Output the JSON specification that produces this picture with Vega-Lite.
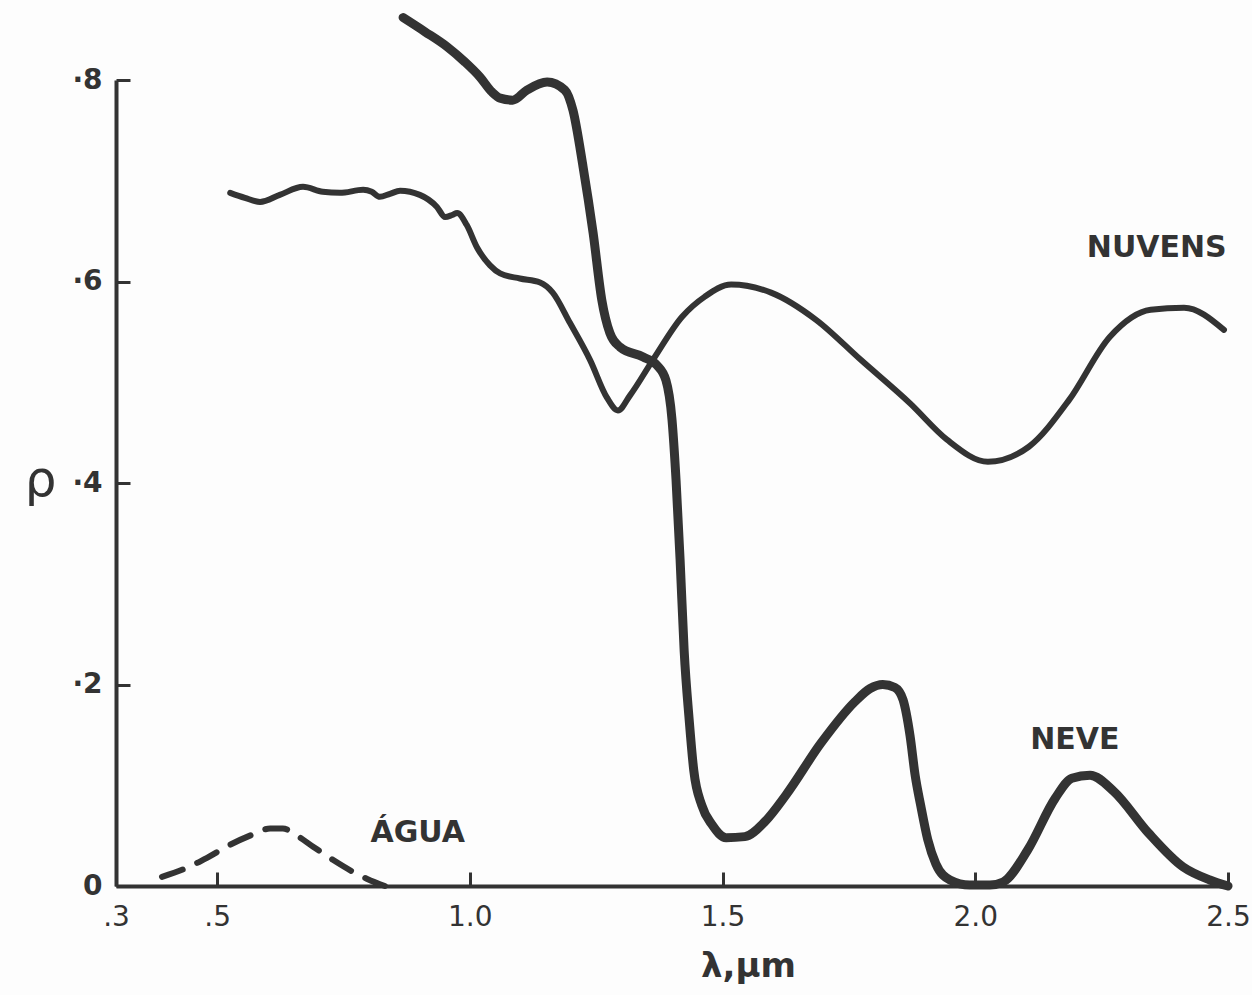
{
  "$schema": "https://vega.github.io/schema/vega-lite/v6.json",
  "width": 1112,
  "height": 806,
  "autosize": {"type": "none"},
  "padding": {"left": 116, "top": 80, "right": 24, "bottom": 109},
  "background": "#fdfdfd",
  "config": {
    "view": {"stroke": null},
    "font": "DejaVu Sans"
  },
  "data": {
    "values": [
      {"s": "nuvens", "x": 0.526, "y": 0.688},
      {"s": "nuvens", "x": 0.555, "y": 0.683},
      {"s": "nuvens", "x": 0.585, "y": 0.679},
      {"s": "nuvens", "x": 0.624, "y": 0.686},
      {"s": "nuvens", "x": 0.670, "y": 0.694},
      {"s": "nuvens", "x": 0.709, "y": 0.689},
      {"s": "nuvens", "x": 0.743, "y": 0.688},
      {"s": "nuvens", "x": 0.789, "y": 0.691},
      {"s": "nuvens", "x": 0.806, "y": 0.689},
      {"s": "nuvens", "x": 0.822, "y": 0.684},
      {"s": "nuvens", "x": 0.842, "y": 0.687},
      {"s": "nuvens", "x": 0.862, "y": 0.690},
      {"s": "nuvens", "x": 0.901, "y": 0.686},
      {"s": "nuvens", "x": 0.935, "y": 0.674},
      {"s": "nuvens", "x": 0.951, "y": 0.664},
      {"s": "nuvens", "x": 0.965, "y": 0.666},
      {"s": "nuvens", "x": 0.975, "y": 0.668},
      {"s": "nuvens", "x": 0.994, "y": 0.656},
      {"s": "nuvens", "x": 1.014, "y": 0.634},
      {"s": "nuvens", "x": 1.040, "y": 0.616},
      {"s": "nuvens", "x": 1.060, "y": 0.608},
      {"s": "nuvens", "x": 1.099, "y": 0.603},
      {"s": "nuvens", "x": 1.139, "y": 0.599},
      {"s": "nuvens", "x": 1.164, "y": 0.589},
      {"s": "nuvens", "x": 1.198, "y": 0.559},
      {"s": "nuvens", "x": 1.238, "y": 0.522},
      {"s": "nuvens", "x": 1.271, "y": 0.485},
      {"s": "nuvens", "x": 1.293, "y": 0.472},
      {"s": "nuvens", "x": 1.317, "y": 0.487},
      {"s": "nuvens", "x": 1.362, "y": 0.522},
      {"s": "nuvens", "x": 1.420, "y": 0.565},
      {"s": "nuvens", "x": 1.465, "y": 0.585},
      {"s": "nuvens", "x": 1.517, "y": 0.597},
      {"s": "nuvens", "x": 1.596, "y": 0.589},
      {"s": "nuvens", "x": 1.685, "y": 0.562},
      {"s": "nuvens", "x": 1.774, "y": 0.522},
      {"s": "nuvens", "x": 1.871, "y": 0.479},
      {"s": "nuvens", "x": 1.944, "y": 0.443},
      {"s": "nuvens", "x": 2.025, "y": 0.421},
      {"s": "nuvens", "x": 2.106, "y": 0.436},
      {"s": "nuvens", "x": 2.185, "y": 0.482},
      {"s": "nuvens", "x": 2.266, "y": 0.545},
      {"s": "nuvens", "x": 2.347, "y": 0.572},
      {"s": "nuvens", "x": 2.413, "y": 0.574},
      {"s": "nuvens", "x": 2.492, "y": 0.552},

      {"s": "neve", "x": 0.868, "y": 0.862},
      {"s": "neve", "x": 0.911, "y": 0.848},
      {"s": "neve", "x": 0.955, "y": 0.833},
      {"s": "neve", "x": 0.990, "y": 0.818},
      {"s": "neve", "x": 1.020, "y": 0.803},
      {"s": "neve", "x": 1.044, "y": 0.788},
      {"s": "neve", "x": 1.060, "y": 0.782},
      {"s": "neve", "x": 1.085, "y": 0.780},
      {"s": "neve", "x": 1.113, "y": 0.790},
      {"s": "neve", "x": 1.153, "y": 0.798},
      {"s": "neve", "x": 1.188, "y": 0.790},
      {"s": "neve", "x": 1.204, "y": 0.770},
      {"s": "neve", "x": 1.224, "y": 0.714},
      {"s": "neve", "x": 1.244, "y": 0.648},
      {"s": "neve", "x": 1.261, "y": 0.582},
      {"s": "neve", "x": 1.277, "y": 0.549},
      {"s": "neve", "x": 1.297, "y": 0.535},
      {"s": "neve", "x": 1.343, "y": 0.525},
      {"s": "neve", "x": 1.370, "y": 0.517},
      {"s": "neve", "x": 1.388, "y": 0.502},
      {"s": "neve", "x": 1.400, "y": 0.463},
      {"s": "neve", "x": 1.408, "y": 0.403},
      {"s": "neve", "x": 1.416, "y": 0.324},
      {"s": "neve", "x": 1.424, "y": 0.234},
      {"s": "neve", "x": 1.434, "y": 0.165},
      {"s": "neve", "x": 1.443, "y": 0.115},
      {"s": "neve", "x": 1.459, "y": 0.080},
      {"s": "neve", "x": 1.479, "y": 0.061},
      {"s": "neve", "x": 1.507, "y": 0.048},
      {"s": "neve", "x": 1.544, "y": 0.049},
      {"s": "neve", "x": 1.584, "y": 0.064},
      {"s": "neve", "x": 1.625, "y": 0.090},
      {"s": "neve", "x": 1.695, "y": 0.142},
      {"s": "neve", "x": 1.762, "y": 0.183},
      {"s": "neve", "x": 1.792, "y": 0.196},
      {"s": "neve", "x": 1.817, "y": 0.200},
      {"s": "neve", "x": 1.841, "y": 0.197},
      {"s": "neve", "x": 1.857, "y": 0.185},
      {"s": "neve", "x": 1.871, "y": 0.149},
      {"s": "neve", "x": 1.881, "y": 0.110},
      {"s": "neve", "x": 1.892, "y": 0.080},
      {"s": "neve", "x": 1.906, "y": 0.046},
      {"s": "neve", "x": 1.922, "y": 0.022},
      {"s": "neve", "x": 1.950, "y": 0.006},
      {"s": "neve", "x": 1.989, "y": 0.001},
      {"s": "neve", "x": 2.029, "y": 0.001},
      {"s": "neve", "x": 2.055, "y": 0.004},
      {"s": "neve", "x": 2.104, "y": 0.036},
      {"s": "neve", "x": 2.158, "y": 0.087},
      {"s": "neve", "x": 2.191, "y": 0.107},
      {"s": "neve", "x": 2.227, "y": 0.110},
      {"s": "neve", "x": 2.274, "y": 0.094},
      {"s": "neve", "x": 2.342, "y": 0.053},
      {"s": "neve", "x": 2.411, "y": 0.019},
      {"s": "neve", "x": 2.464, "y": 0.006},
      {"s": "neve", "x": 2.500, "y": 0.000},

      {"s": "agua", "x": 0.391, "y": 0.009},
      {"s": "agua", "x": 0.440, "y": 0.018},
      {"s": "agua", "x": 0.480, "y": 0.028},
      {"s": "agua", "x": 0.526, "y": 0.041},
      {"s": "agua", "x": 0.565, "y": 0.050},
      {"s": "agua", "x": 0.605, "y": 0.057},
      {"s": "agua", "x": 0.630, "y": 0.057},
      {"s": "agua", "x": 0.658, "y": 0.050},
      {"s": "agua", "x": 0.690, "y": 0.039},
      {"s": "agua", "x": 0.729, "y": 0.026},
      {"s": "agua", "x": 0.769, "y": 0.014},
      {"s": "agua", "x": 0.797, "y": 0.007},
      {"s": "agua", "x": 0.832, "y": 0.000}
    ]
  },
  "encoding": {
    "x": {
      "field": "x",
      "type": "quantitative",
      "scale": {"domain": [0.3, 2.5], "nice": false, "zero": false},
      "axis": {
        "values": [0.3, 0.5, 1.0, 1.5, 2.0, 2.5],
        "labelExpr": "datum.value < 1 ? '.' + round(datum.value * 10) : format(datum.value, '.1f')",
        "grid": false,
        "domainColor": "#333",
        "domainWidth": 4,
        "ticks": true,
        "tickColor": "#333",
        "tickWidth": 3,
        "tickSize": -14,
        "labelFontSize": 28,
        "labelColor": "#333",
        "labelPadding": 31,
        "labelFlush": false,
        "title": "λ,μm",
        "titleFontSize": 34,
        "titleFontWeight": "bold",
        "titleColor": "#333",
        "titleX": 632,
        "titleY": 80,
        "titleBaseline": "middle",
        "titleAlign": "center"
      }
    },
    "y": {
      "field": "y",
      "type": "quantitative",
      "scale": {"domain": [0, 0.8], "nice": false},
      "axis": {
        "values": [0, 0.2, 0.4, 0.6, 0.8],
        "labelExpr": "datum.value == 0 ? '0' : '·' + round(datum.value * 10)",
        "grid": false,
        "domainColor": "#333",
        "domainWidth": 4,
        "ticks": true,
        "tickColor": "#333",
        "tickWidth": 3,
        "tickSize": -14,
        "labelFontSize": 28,
        "labelFontWeight": "bold",
        "labelColor": "#333",
        "labelPadding": 28,
        "labelFlush": false,
        "title": "ρ",
        "titleFontSize": 50,
        "titleFontWeight": "normal",
        "titleColor": "#333",
        "titleAngle": 0,
        "titleX": -76,
        "titleY": 400,
        "titleBaseline": "middle",
        "titleAlign": "center"
      }
    }
  },
  "layer": [
    {
      "transform": [{"filter": "datum.s == 'nuvens'"}],
      "mark": {"type": "line", "color": "#333", "strokeWidth": 6, "interpolate": "monotone", "strokeCap": "round", "strokeJoin": "round"}
    },
    {
      "transform": [{"filter": "datum.s == 'neve'"}],
      "mark": {"type": "line", "color": "#333", "strokeWidth": 9, "interpolate": "monotone", "strokeCap": "round", "strokeJoin": "round"}
    },
    {
      "transform": [{"filter": "datum.s == 'agua'"}],
      "mark": {"type": "line", "color": "#333", "strokeWidth": 6, "interpolate": "monotone", "strokeCap": "round", "strokeDash": [22, 16]}
    },
    {
      "data": {
        "values": [
          {"label": "NUVENS", "lx": 2.359, "ly": 0.633},
          {"label": "NEVE", "lx": 2.197, "ly": 0.145},
          {"label": "ÁGUA", "lx": 0.897, "ly": 0.053}
        ]
      },
      "mark": {"type": "text", "font": "DejaVu Sans", "fontWeight": "bold", "fontSize": 30, "color": "#333", "align": "center", "baseline": "middle"},
      "encoding": {
        "x": {"field": "lx", "type": "quantitative"},
        "y": {"field": "ly", "type": "quantitative"},
        "text": {"field": "label"}
      }
    }
  ]
}
